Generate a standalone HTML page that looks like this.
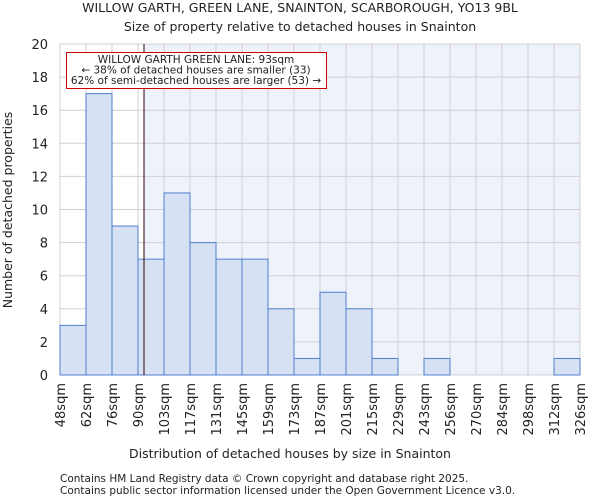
<!DOCTYPE html>
<html><head><meta charset="utf-8"><style>
body{margin:0;background:#fff;font-family:"DejaVu Sans","Liberation Sans",sans-serif}
svg text{font-family:"DejaVu Sans","Liberation Sans",sans-serif;fill:#222}
</style></head><body>
<svg id="c" width="600" height="500">
<text x="300" y="12" font-size="12.5" text-anchor="middle">WILLOW GARTH, GREEN LANE, SNAINTON, SCARBOROUGH, YO13 9BL</text>
<text x="300" y="31" font-size="12.5" text-anchor="middle">Size of property relative to detached houses in Snainton</text>
<text x="290" y="458" font-size="12.5" text-anchor="middle">Distribution of detached houses by size in Snainton</text>
<text transform="translate(12,210) rotate(-90)" font-size="12.5" text-anchor="middle">Number of detached properties</text>
<text x="60" y="482" font-size="10.5">Contains HM Land Registry data © Crown copyright and database right 2025.</text>
<text x="60" y="494" font-size="10.5">Contains public sector information licensed under the Open Government Licence v3.0.</text>
</svg>
<script>
const categories=["48sqm","62sqm","76sqm","90sqm","103sqm","117sqm","131sqm","145sqm","159sqm","173sqm","187sqm","201sqm","215sqm","229sqm","243sqm","256sqm","270sqm","284sqm","298sqm","312sqm","326sqm"];
const counts=[3,17,9,7,11,8,7,7,4,1,5,4,1,0,1,0,0,0,0,1];
const yTicks=[0,2,4,6,8,10,12,14,16,18,20];
const propertySize=93;
const binEdges=[48,62,76,90,103,117,131,145,159,173,187,201,215,229,243,256,270,284,298,312,326];
const L=60,R=580,T=44,B=375,yMax=20;
const svg=document.getElementById('c');
const NS='http://www.w3.org/2000/svg';
function y(v){return B-(v/yMax)*(B-T);}
function xi(i){return L+i*(R-L)/counts.length;}
function xv(v){for(let i=0;i<binEdges.length-1;i++){if(v<=binEdges[i+1])return xi(i)+(v-binEdges[i])/(binEdges[i+1]-binEdges[i])*(xi(i+1)-xi(i));}return R;}
function mk(t,a){const e=document.createElementNS(NS,t);for(const k in a)e.setAttribute(k,a[k]);svg.appendChild(e);return e;}
const px=xv(propertySize);
let e=mk('rect',{x:L,y:T,width:R-L,height:B-T,fill:'#eef2fb'});


e=mk('rect',{x:L,y:T,width:px-L,height:B-T,fill:'#ffffff'});


yTicks.forEach(t=>{
 const g=mk('line',{x1:L,x2:R,y1:y(t),y2:y(t),stroke:'#d0d0d0','stroke-width':1});
 
 
 const tx=mk('text',{x:L-12,y:y(t)+5,'font-size':13,'text-anchor':'end'});
 tx.textContent=t;
 
 
});
categories.forEach((c,i)=>{
 const g=mk('line',{x1:xi(i),x2:xi(i),y1:T,y2:B,stroke:'#d0d0d0','stroke-width':1});
 
 
 const tx=mk('text',{transform:`translate(${xi(i)+5},${B+8}) rotate(-90)`,'font-size':13,'text-anchor':'end'});
 tx.textContent=c;
 
 
});
counts.forEach((v,i)=>{
 if(v<=0)return;
 const r=mk('rect',{x:xi(i),y:y(v),width:xi(i+1)-xi(i),height:B-y(v),fill:'#d6e1f4',stroke:'#4f7fce','stroke-width':1});
 
 
});
e=mk('line',{x1:px,x2:px,y1:T,y2:B,stroke:'#330000','stroke-width':1});


e=mk('rect',{x:66.5,y:52.5,width:260,height:36,fill:'#fff',stroke:'#cc0000','stroke-width':1});


["WILLOW GARTH GREEN LANE: 93sqm","← 38% of detached houses are smaller (33)","62% of semi-detached houses are larger (53) →"].forEach((s,i)=>{
 const t=mk('text',{x:196,y:63+i*10.5,'font-size':10.5,'text-anchor':'middle'});
 t.textContent=s;
 
 
});
</script>
</body></html>
